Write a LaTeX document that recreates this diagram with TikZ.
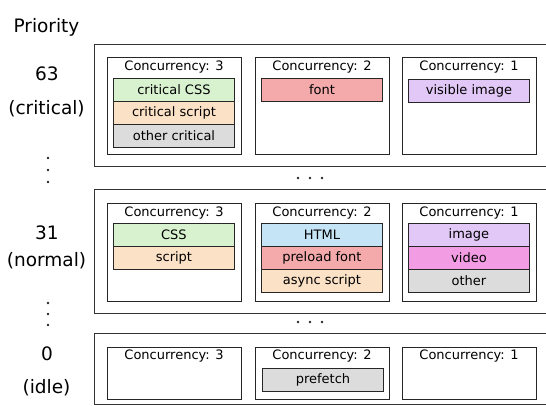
\documentclass[tikz,border=0pt]{standalone}
\usepackage{fontspec}
\setmainfont{DejaVu Sans}
\definecolor{cgreen}{HTML}{D8F2D0}
\definecolor{cpeach}{HTML}{FBE1C6}
\definecolor{cgray}{HTML}{DCDCDC}
\definecolor{cred}{HTML}{F4AAAA}
\definecolor{clav}{HTML}{E2C8F6}
\definecolor{cblue}{HTML}{C5E5F7}
\definecolor{cmag}{HTML}{F29CE4}
\definecolor{cline}{HTML}{333333}
\newcommand{\txs}[1]{#1\hspace{6pt}}
\begin{document}
\begin{tikzpicture}[x=1pt,y=-1pt,
  outerbox/.style={draw=cline,line width=1.2pt,minimum width=480pt,anchor=north west,inner sep=0pt},
  innerbox/.style={draw=black!85,line width=0.9pt,minimum width=134pt,anchor=north west,inner sep=0pt},
  hdr/.style={font=\fontsize{13}{15}\selectfont,inner sep=0pt,anchor=center},
  item/.style={draw=black!85,line width=0.9pt,minimum width=121pt,minimum height=23pt,anchor=north west,inner sep=0pt,font=\fontsize{13}{15}\selectfont},
  big/.style={font=\fontsize{18.5}{22}\selectfont,inner sep=0pt,anchor=base},
  dotc/.style={fill=black!85,circle,inner sep=0pt,minimum size=2.8pt}]
\useasboundingbox (0,0) rectangle (546,405);
\begin{scope}
\clip (0,0) rectangle (546,405);
% outer rows
\node[outerbox,minimum height=122pt] (o1) at (94,44) {};
\node[outerbox,minimum height=124pt] (o2) at (94,189) {};
\node[outerbox,minimum height=71pt] (o3) at (94,333) {};
\end{scope}
% inner boxes
\node[innerbox,minimum height=97pt] (a1) at (107,57) {};
\node[innerbox,minimum height=97pt] (a2) at (255,57) {};
\node[innerbox,minimum height=97pt] (a3) at (402,57) {};
\node[innerbox,minimum height=98pt] (b1) at (107,203) {};
\node[innerbox,minimum height=98pt] (b2) at (255,203) {};
\node[innerbox,minimum height=98pt] (b3) at (402,203) {};
\node[innerbox,minimum height=52pt] (c1) at (107,347) {};
\node[innerbox,minimum height=52pt] (c2) at (255,347) {};
\node[innerbox,minimum height=52pt] (c3) at (402,347) {};
% headers
\node[hdr] (ha1) at (174,67) {\txs{Concurrency: 3}};
\node[hdr] (ha2) at (322,67) {\txs{Concurrency: 2}};
\node[hdr] (ha3) at (469,67) {\txs{Concurrency: 1}};
\node[hdr] (hb1) at (174,213) {\txs{Concurrency: 3}};
\node[hdr] (hb2) at (322,213) {\txs{Concurrency: 2}};
\node[hdr] (hb3) at (469,213) {\txs{Concurrency: 1}};
\node[hdr] (hc1) at (174,356) {\txs{Concurrency: 3}};
\node[hdr] (hc2) at (322,356) {\txs{Concurrency: 2}};
\node[hdr] (hc3) at (469,356) {\txs{Concurrency: 1}};
% items row 1
\node[item,fill=cgreen] (i1) at (113,78) {\txs{critical CSS}};
\node[item,fill=cpeach] (i2) at (113,101) {\txs{critical script}};
\node[item,fill=cgray] (i3) at (113,124) {\txs{other critical}};
\node[item,fill=cred] (i4) at (261,78) {\txs{font}};
\node[item,fill=clav] (i5) at (408,79) {\txs{visible image}};
% items row 2
\node[item,fill=cgreen] (j1) at (113,223) {\txs{CSS}};
\node[item,fill=cpeach] (j2) at (113,246) {\txs{script}};
\node[item,fill=cblue] (j3) at (261,223) {\txs{HTML}};
\node[item,fill=cred] (j4) at (261,246) {\txs{preload font}};
\node[item,fill=cpeach] (j5) at (261,269) {\txs{async script}};
\node[item,fill=clav] (j6) at (408,223) {\txs{image}};
\node[item,fill=cmag] (j7) at (408,246) {\txs{video}};
\node[item,fill=cgray] (j8) at (408,269) {\txs{other}};
% items row 3
\node[item,fill=cgray] (k1) at (262,368) {\txs{prefetch}};
% left labels
\node[big] (lp) at (46.5,32) {Priority};
\node[big] (l63) at (47,80) {63};
\node[big] (lcr) at (46.5,114) {(critical)};
\node[big] (l31) at (47,239) {31};
\node[big] (lno) at (46.5,266) {(normal)};
\node[big] (l0) at (47,360) {0};
\node[big] (lid) at (46.5,393) {(idle)};
% vertical dots
\node[dotc] (v1) at (48,158) {};
\node[dotc] (v2) at (48,170) {};
\node[dotc] (v3) at (48,182) {};
\node[dotc] (v4) at (48,303) {};
\node[dotc] (v5) at (48,314) {};
\node[dotc] (v6) at (48,325) {};
% horizontal dots
\node[dotc] (h1) at (298,178) {};
\node[dotc] (h2) at (310,178) {};
\node[dotc] (h3) at (322,178) {};
\node[dotc] (h4) at (298,322) {};
\node[dotc] (h5) at (310,322) {};
\node[dotc] (h6) at (322,322) {};
\end{tikzpicture}
\end{document}
